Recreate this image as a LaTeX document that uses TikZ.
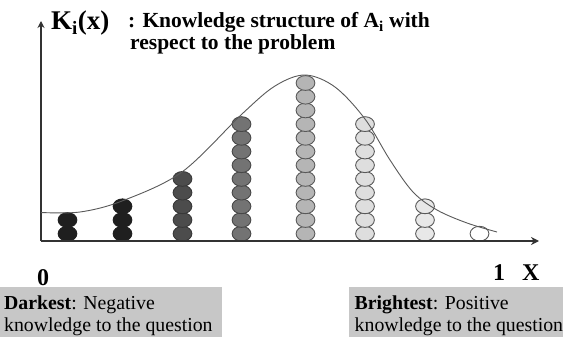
\documentclass[tikz,border=0pt]{standalone}
\usepackage{fontspec}
\setmainfont{Liberation Serif}
\usetikzlibrary{arrows.meta}

% one column of stacked beads: x position, count, fill, outline
\newcommand\beadcol[4]{%
  \foreach \k in {1,...,#2}{%
    \filldraw[bead, fill=#3, draw=#4] (#1, {233.7-(\k-1)*13.7}) ellipse [x radius=9.4pt, y radius=7.4pt];
  }%
}

\begin{document}
\begin{tikzpicture}[x=1pt, y=-1pt,
  axis/.style={draw=black!80, line width=1.8pt},
  bead/.style={line width=0.9pt},
  curve/.style={draw=black!65, line width=0.9pt},
  lbl/.style={inner sep=0pt, anchor=base west},
  boxfill/.style={fill=black!22, draw=none},
  big/.style={font=\fontsize{27}{29}\selectfont\bfseries},
  head/.style={font=\fontsize{21.5}{23}\selectfont\bfseries},
  tick/.style={font=\fontsize{24}{26}\selectfont\bfseries},
  note/.style={font=\fontsize{19.8}{22}\selectfont}]
\useasboundingbox (0,0) rectangle (563,337);

% beads, darkest on the left, brightest on the right
\beadcol{67.5}{2}{black!88}{black!88}
\beadcol{122.5}{3}{black!88}{black!88}
\beadcol{182.5}{5}{black!70}{black!78}
\beadcol{241.5}{9}{black!55}{black!72}
\beadcol{305.5}{12}{black!29}{black!65}
\beadcol{365}{9}{black!13}{black!65}
\beadcol{425}{3}{black!9}{black!65}
\beadcol{479.5}{1}{white}{black!65}

% axes
\coordinate (o) at (41,241);
\coordinate (ytop) at (41,21);
\coordinate (xend) at (539,241);
\draw[axis, -{Stealth[length=7pt, width=7pt]}] (o) -- (ytop);
\draw[axis, -{Stealth[length=8pt, width=8pt]}] (o) -- (xend);

% knowledge curve
\draw[curve] plot[smooth, tension=0.55] coordinates {
  (41,212.5) (80,212) (122,201) (182,172) (242,114) (275,86) (305,75)
  (335,87) (365,119) (390,160) (413,192) (437,210) (467,223) (497,232)};

% title
\node[lbl, big] (kx) at (51,30) {K\textsubscript{i}(x)};
\node[lbl, head] (t1) at (128,28) {: Knowledge structure of A\textsubscript{i} with};
\node[lbl, head] (t2) at (130,49.5) {respect to the problem};

% axis ticks
\node[lbl, tick] (zero) at (37,285) {0};
\node[lbl, tick] (one) at (493,280) {1};
\node[lbl, tick] (xlab) at (522,280) {X};

% legend boxes
\fill[boxfill] (0,287) rectangle (222,337);
\fill[boxfill] (349,287) rectangle (563,337);
\node[lbl, note] (d1) at (4,309.5) {\textbf{Darkest}: Negative};
\node[lbl, note] (d2) at (4,331.5) {knowledge to the question};
\node[lbl, note] (b1) at (354.5,309.5) {\textbf{Brightest}: Positive};
\node[lbl, note] (b2) at (354.5,331.5) {knowledge to the question};
\end{tikzpicture}
\end{document}
